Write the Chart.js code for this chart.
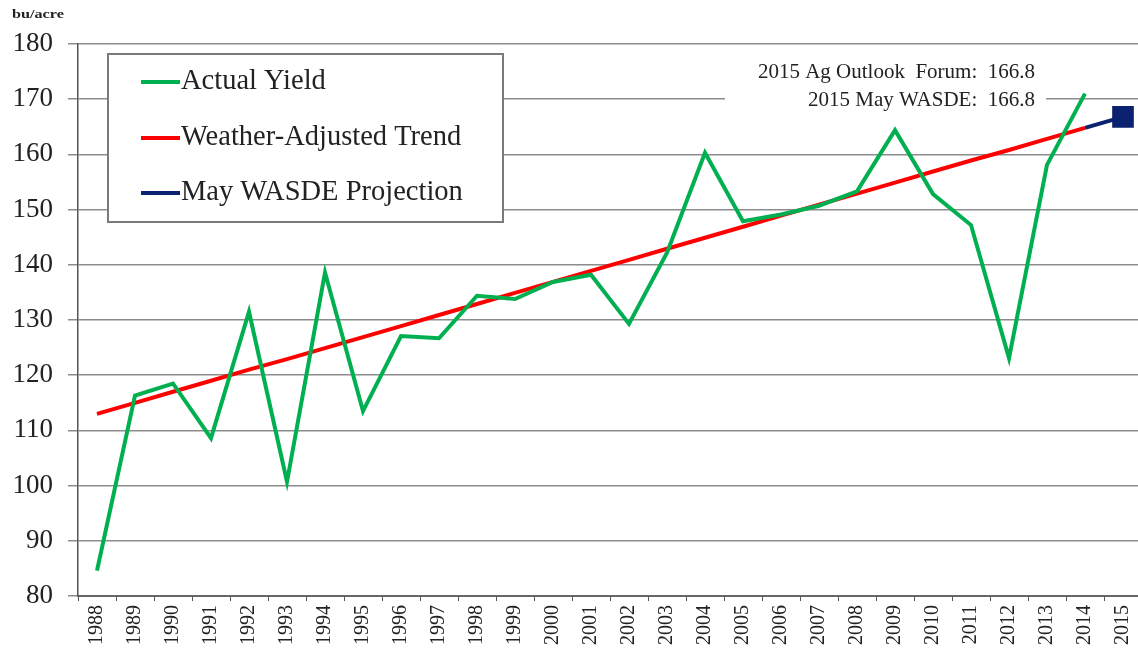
<!DOCTYPE html>
<html>
<head>
<meta charset="utf-8">
<script src="https://cdn.jsdelivr.net/npm/chart.js@4"></script>
<style>
    html, body { margin: 0; padding: 0; background: #fff; overflow: hidden; }
    #wrap { width: 1142px; height: 653px; position: relative; }
</style>
</head>
<body>
<div id="wrap"><canvas id="yield-chart"></canvas></div>
<script>
const years = ['1988', '1989', '1990', '1991', '1992', '1993', '1994', '1995', '1996', '1997',
    '1998', '1999', '2000', '2001', '2002', '2003', '2004', '2005', '2006', '2007',
    '2008', '2009', '2010', '2011', '2012', '2013', '2014', '2015'];

const actualYield = [84.6, 116.3, 118.5, 108.6, 131.5, 100.7, 138.6, 113.5, 127.1, 126.7,
    134.4, 133.8, 136.9, 138.2, 129.3, 142.2, 160.3, 147.9, 149.1, 150.7,
    153.3, 164.4, 152.8, 147.2, 123.1, 158.1, 171.0, null];

const trendYield = [113.0, 115.0, 117.0, 119.0, 121.0, 122.9, 124.9, 126.9, 128.9, 130.9,
    132.9, 134.9, 136.9, 138.9, 140.9, 142.9, 144.9, 146.9, 148.9, 150.9,
    152.9, 154.9, 156.9, 158.9, 160.8, 162.8, 164.8, null];

const wasdeProjection = [null, null, null, null, null, null, null, null, null, null,
    null, null, null, null, null, null, null, null, null, null,
    null, null, null, null, null, null, 164.8, 166.8];

const seriesNames = ['Actual Yield', 'Weather-Adjusted Trend', 'May WASDE Projection'];
const yTicks = [80, 90, 100, 110, 120, 130, 140, 150, 160, 170, 180];
const notes = ['2015 Ag Outlook  Forum:  166.8', '2015 May WASDE:  166.8'];

const serif = "'Liberation Serif', 'Times New Roman', serif";
const gridGray = '#8c8c8c';

// legend box, notes and unit label drawn by hand (Excel style)
const decorations = {
    id: 'decorations',
    beforeDatasetsDraw(chart) {
        const ctx = chart.ctx;
        ctx.save();
        ctx.fillStyle = '#fff';
        ctx.fillRect(725, 92, 321, 16);
        ctx.restore();
    },
    afterDraw(chart) {
        const ctx = chart.ctx;
        ctx.save();

        ctx.fillStyle = '#222';
        ctx.textBaseline = 'middle';
        ctx.save();
        ctx.translate(12, 15);
        ctx.scale(1.35, 1);
        ctx.font = 'bold 12px ' + serif;
        ctx.fillText('bu/acre', 0, 0);
        ctx.restore();

        ctx.font = '21px ' + serif;
        ctx.textAlign = 'right';
        ctx.fillText(notes[0], 1035, 72);
        ctx.fillText(notes[1], 1035, 100);

        // legend
        ctx.fillStyle = '#fff';
        ctx.fillRect(108, 54, 395, 168);
        ctx.strokeStyle = '#7a7a7a';
        ctx.lineWidth = 2;
        ctx.strokeRect(108, 54, 395, 168);
        ctx.font = '28.5px ' + serif;
        ctx.textAlign = 'left';
        const rows = [82, 138, 193];
        chart.data.datasets.forEach((ds, i) => {
            ctx.strokeStyle = ds.borderColor;
            ctx.lineWidth = 4;
            ctx.beginPath();
            ctx.moveTo(141, rows[i]);
            ctx.lineTo(180, rows[i]);
            ctx.stroke();
            ctx.fillStyle = '#222';
            ctx.fillText(ds.label, 181, rows[i]);
        });
        ctx.restore();
    }
};

new Chart('yield-chart', {
    type: 'line',
    data: {
        labels: years,
        datasets: [{
            label: seriesNames[0],
            data: actualYield,
            borderColor: '#00b050',
            borderWidth: 4,
            pointRadius: 0,
            tension: 0
        }, {
            label: seriesNames[1],
            data: trendYield,
            borderColor: '#ff0000',
            borderWidth: 4,
            pointRadius: 0,
            tension: 0
        }, {
            label: seriesNames[2],
            data: wasdeProjection,
            borderColor: '#0b2270',
            backgroundColor: '#0b2270',
            borderWidth: 4,
            pointStyle: 'rect',
            pointRadius: ctx => ctx.dataIndex === 27 ? 12.5 : 0,
            tension: 0
        }]
    },
    options: {
        responsive: true,
        maintainAspectRatio: false,
        animation: false,
        layout: { autoPadding: false, padding: { top: 44, left: 0, right: 0, bottom: 0 } },
        plugins: {
            legend: { display: false },
            tooltip: { enabled: false }
        },
        scales: {
            x: {
                offset: true,
                grid: {
                    offset: true,
                    drawOnChartArea: false,
                    drawTicks: true,
                    tickLength: 5,
                    tickColor: '#555'
                },
                border: { color: '#666', width: 2 },
                ticks: {
                    color: '#222',
                    font: { family: serif, size: 20 },
                    minRotation: 90,
                    maxRotation: 90,
                    autoSkip: false,
                    padding: 4
                },
                afterFit: scale => {
                    scale.height = 57;
                    scale.paddingLeft = 0;
                    scale.paddingRight = 0;
                }
            },
            y: {
                min: 80,
                max: 180,
                afterBuildTicks: scale => { scale.ticks = yTicks.map(v => ({ value: v })); },
                grid: {
                    color: gridGray,
                    lineWidth: 1.5,
                    tickLength: 10,
                    tickColor: gridGray
                },
                border: { color: '#555', width: 1.5 },
                ticks: {
                    color: '#222',
                    font: { family: serif, size: 27 },
                    padding: 15
                },
                afterFit: scale => {
                    scale.width = 78;
                    scale.paddingTop = 0;
                    scale.paddingBottom = 0;
                }
            }
        }
    },
    plugins: [decorations]
});
</script>
</body>
</html>
